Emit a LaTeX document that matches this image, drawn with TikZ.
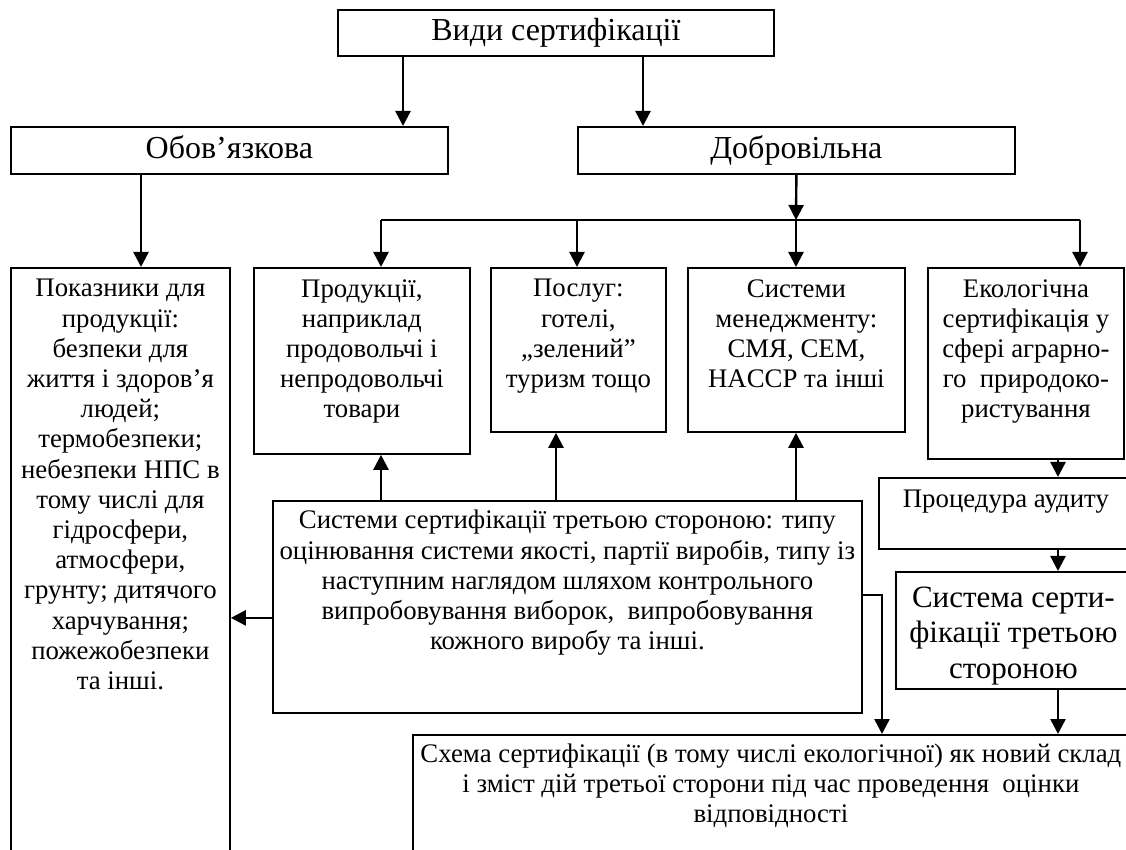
\documentclass[tikz,border=0pt]{standalone}
\usepackage{fontspec}
\setmainfont{Liberation Serif}
\usepackage{tikz}
\usetikzlibrary{arrows.meta,calc,positioning}

\begin{document}
\begin{tikzpicture}[x=0.5pt,y=-0.5pt,
    box/.style={draw,line width=0.9pt,inner sep=0pt,anchor=north west},
    txt/.style={anchor=north,inner sep=0pt,align=center,font=\fontsize{13.4}{15.1}\selectfont},
    head/.style={font=\fontsize{16}{19}\selectfont,text height=11pt,text depth=3pt},
    big/.style={font=\fontsize{15.5}{17.75}\selectfont},
    arr/.style={line width=1.2pt,-{Triangle[length=7.5pt,width=7.5pt]}}]
  \useasboundingbox (0,0) rectangle (1126,850);
  \clip (0,0) rectangle (1126,850);
  \node[box,head,minimum width=218pt,minimum height=23pt] (vidy) at (337,9) {Види сертифікації};
  \node[box,head,minimum width=218.5pt,minimum height=23.5pt] (oboy) at (10,126) {Обов’язкова};
  \node[box,head,minimum width=218.5pt,minimum height=23.5pt] (dobr) at (577,126) {Добровільна};
  \node[box,minimum width=109.5pt,minimum height=316.5pt] (pokaz) at (10,267) {};
  \node[box,minimum width=108pt,minimum height=93pt] (prod) at (253,267) {};
  \node[box,minimum width=87.5pt,minimum height=82pt] (posl) at (490,267) {};
  \node[box,minimum width=108.5pt,minimum height=82pt] (sys) at (687,267) {};
  \node[box,minimum width=98pt,minimum height=95.5pt] (eko) at (927,267) {};
  \node[box,minimum width=294.5pt,minimum height=106pt] (third) at (272,500) {};
  \node[box,minimum width=127pt,minimum height=35.5pt] (audit) at (878,477) {};
  \node[box,minimum width=117.5pt,minimum height=58.5pt] (sist3) at (895,571) {};
  \node[box,minimum width=358pt,minimum height=85pt] (schema) at (412,734) {};

  \node[txt] (pokaz-t) at ([yshift=-6pt]pokaz.north) {Показники для\\продукції:\\безпеки для\\життя і здоров’я\\людей;\\термобезпеки;\\небезпеки НПС в\\тому числі для\\гідросфери,\\атмосфери,\\грунту; дитячого\\харчування;\\пожежобезпеки\\та інші.};
  \node[txt] (prod-t) at ([yshift=-6pt]prod.north) {Продукції,\\наприклад\\продовольчі і\\непродовольчі\\товари};
  \node[txt] (posl-t) at ([yshift=-6pt]posl.north) {Послуг:\\готелі,\\„зелений”\\туризм тощо};
  \node[txt] (sys-t) at ([yshift=-6pt]sys.north) {Системи\\менеджменту:\\СМЯ, СЕМ,\\HACCP та інші};
  \node[txt] (eko-t) at ([yshift=-6pt]eko.north) {Екологічна\\сертифікація у\\сфері аграрно-\\го\ \ природоко-\\ристування};
  \node[txt] (third-t) at ([yshift=-5pt]third.north) {Системи сертифікації третьою стороною: типу\\оцінювання системи якості, партії виробів, типу із\\наступним наглядом шляхом контрольного\\випробовування виборок,\ \ випробовування\\кожного виробу та інші.};
  \node[txt] (audit-t) at ([yshift=-6.1pt]audit.north) {Процедура аудиту};
  \node[txt,big] (sist3-t) at ([yshift=-7.7pt]sist3.north) {Система серти-\\фікації третьою\\стороною};
  \node[txt] (schema-t) at ([yshift=-4.8pt]schema.north) {Схема сертифікації (в тому числі екологічної) як новий склад\\і зміст дій третьої сторони під час проведення\ \ оцінки\\відповідності};

  \foreach \n/\x in {toOb/403,toDo/643,toPok/141,toProd/381,toPosl/577,toSys/796,toEko/1080,upPosl/556,toAud/1058,elb/882}
    \coordinate (\n) at (\x,0);
  \coordinate (bus) at (796,220);
  \draw[arr] (vidy.south -| toOb) -- (oboy.north -| toOb);
  \draw[arr] (vidy.south -| toDo) -- (dobr.north -| toDo);
  \draw[arr] (oboy.south -| toPok) -- (pokaz.north -| toPok);
  \draw[arr] (dobr.south) -- (bus);
  \draw[line width=1.2pt] (bus -| toProd) -- (bus -| toEko);
  \foreach \n/\l in {prod/toProd,posl/toPosl,sys/toSys,eko/toEko}
    \draw[arr] (bus -| \l) -- (\n.north -| \l);
  \foreach \n/\l in {prod/toProd,posl/upPosl,sys/toSys}
    \draw[arr] (third.north -| \l) -- (\n.south -| \l);
  \draw[arr] ([yshift=-5.5pt]third.west) -- ([yshift=-5.5pt]third.west -| pokaz.east);
  \draw[arr] ([yshift=6pt]third.east) -| (schema.north -| elb);
  \foreach \a/\b in {eko/audit,audit/sist3,sist3/schema}
    \draw[arr] (\a.south -| toAud) -- (\b.north -| toAud);
\end{tikzpicture}
\end{document}
